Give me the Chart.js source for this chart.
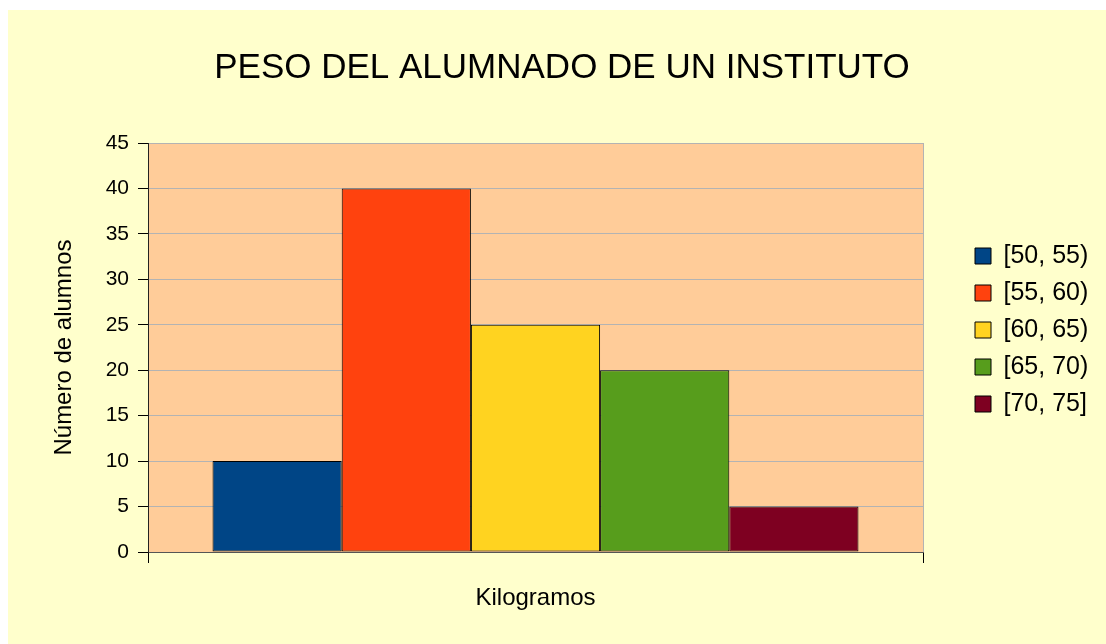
<!DOCTYPE html>
<html>
<head>
<meta charset="utf-8">
<script src="https://cdn.jsdelivr.net/npm/chart.js@4.4.0/dist/chart.umd.min.js"></script>
<style>
html, body { margin: 0; padding: 0; background: #ffffff; }
#wrap { position: absolute; left: 8px; top: 10px; width: 1098px; height: 634px; background: #FFFFCC; }
canvas { display: block; }
</style>
</head>
<body>
<div id="wrap"><canvas id="c" width="1098" height="634"></canvas></div>
<script>
// ---- data ----
const categories = [''];
const seriesLabels = ['[50, 55)', '[55, 60)', '[60, 65)', '[65, 70)', '[70, 75]'];
const seriesValues = [10, 40, 25, 20, 5];
const seriesColors = ['#004586', '#FF420E', '#FFD320', '#579D1C', '#7E0021'];
const yMin = 0, yMax = 45, yStep = 5;
const chartTitle = 'PESO DEL ALUMNADO DE UN INSTITUTO';
const xTitle = 'Kilogramos';
const yTitle = 'Número de alumnos';

// ---- layout constants ----
const FONT = '"Liberation Sans", Arial, sans-serif';
const legendFontSize = 25, legendPad = 12, legendBox = 16;
const plotLeft = 140, plotRightGap = 183, plotTop = 133, plotBottomGap = 92;
const legendBoxX = 967; // canvas x of legend squares

Chart.defaults.font.family = FONT;
Chart.defaults.color = '#000';

// measure legend width so the plot's right edge lands where wanted
const mctx = document.createElement('canvas').getContext('2d');
mctx.font = 'normal ' + legendFontSize + 'px ' + FONT;
const maxLabelW = Math.max(...seriesLabels.map(t => mctx.measureText(t).width));
const legendW = legendPad + legendBox + legendFontSize / 2 + maxLabelW + 10;

const plotBg = {
  id: 'plotBg',
  beforeDraw(chart) {
    const { ctx, chartArea: a } = chart;
    ctx.save();
    ctx.fillStyle = '#FFCC99';
    ctx.fillRect(a.left, a.top, a.right - a.left, a.bottom - a.top);
    ctx.restore();
  }
};
const layoutTweak = {
  id: 'layoutTweak',
  afterLayout(chart) {
    const l = chart.legend;
    const dx = (legendBoxX - legendPad) - l.left;
    l.left += dx; l.right += dx;
    l.top += 3; l.bottom += 3;
    const t = chart.titleBlock;
    if (t) { t.left = 10; t.right = chart.width; }
  }
};

const datasets = seriesLabels.map((lab, i) => ({
  label: lab,
  data: [seriesValues[i]],
  backgroundColor: seriesColors[i],
  borderColor: '#000000',
  borderWidth: 1,
  borderSkipped: false,
  categoryPercentage: 0.8335,
  barPercentage: 1.0
}));

new Chart(document.getElementById('c'), {
  type: 'bar',
  data: { labels: categories, datasets },
  options: {
    responsive: false,
    animation: false,
    devicePixelRatio: 1,
    layout: { padding: { left: 0, top: 0, bottom: 0, right: Math.max(0, plotRightGap - legendW) } },
    plugins: {
      tooltip: { enabled: false },
      title: {
        display: true,
        text: chartTitle,
        color: '#000',
        font: { size: 35, weight: 'normal' },
        padding: { top: 37, bottom: plotTop - 37 - 42 }
      },
      legend: {
        display: true,
        position: 'right',
        align: 'center',
        labels: {
          boxWidth: legendBox,
          boxHeight: legendBox,
          padding: legendPad,
          color: '#000',
          font: { size: legendFontSize }
        }
      }
    },
    scales: {
      x: {
        type: 'category',
        offset: true,
        grid: {
          offset: true,
          display: true,
          drawOnChartArea: true,
          drawTicks: true,
          tickLength: 11,
          color: '#b3b3b3',
          tickColor: '#000',
          lineWidth: 1
        },
        border: { display: true, color: '#555', width: 1 },
        ticks: { display: false },
        title: {
          display: true,
          text: xTitle,
          color: '#000',
          font: { size: 24 },
          padding: { top: 0, bottom: 31 }
        },
        afterFit(scale) { scale.height = plotBottomGap; }
      },
      y: {
        min: yMin,
        max: yMax,
        ticks: { stepSize: yStep, color: '#000', font: { size: 21 }, padding: 9 },
        grid: {
          color: '#b3b3b3',
          tickColor: '#000',
          tickLength: 10,
          drawTicks: true,
          lineWidth: 1
        },
        border: { display: true, color: '#222', width: 1 },
        title: {
          display: true,
          text: yTitle,
          color: '#000',
          font: { size: 24 },
          padding: { top: 42, bottom: 0 }
        },
        afterFit(scale) { scale.width = plotLeft; }
      }
    }
  },
  plugins: [plotBg, layoutTweak]
});
</script>
</body>
</html>
